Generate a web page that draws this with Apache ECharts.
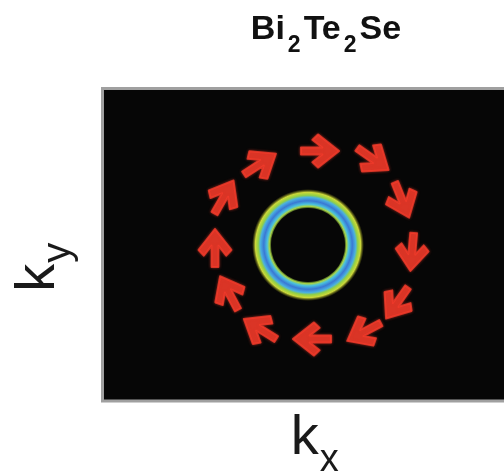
<!DOCTYPE html>
<html>
<head>
<meta charset="utf-8">
<script src="https://cdn.jsdelivr.net/npm/echarts@6/dist/echarts.min.js"></script>
<style>
  html, body { margin: 0; padding: 0; background: #fff; }
  #chart { width: 504px; height: 476px; }
</style>
</head>
<body>
<div id="chart"></div>
<script>
// momentum window (arbitrary units, ring centred at 0,0)
var kxRange = [-2.055, 2.01];
var kyRange = [-1.56, 1.565];

// constant energy contour of the surface state
var ringCenter = [0, 0];
var ringInner = 0.37;
var ringOuter = 0.56;

// spin texture: arrow positions and spin direction (deg, counter-clockwise from +kx)
var spinKx = [0.12, 0.65, 0.94, 1.04, 0.89, 0.56, 0.04, -0.48, -0.79, -0.93, -0.84, -0.48];
var spinKy = [0.94, 0.86, 0.45, -0.07, -0.58, -0.87, -0.94, -0.84, -0.48, -0.03, 0.48, 0.81];
var spinAngle = [0, -35, -68, -95, -125, -152, 180, 148, 118, 90, 60, 33];

var arrowPath = 'path://M100,43 L45,0 L30,14 L56,34 L0,34 L0,52 L56,52 L30,72 L45,86 Z';
var textFont = "'Liberation Sans Narrow', 'Liberation Sans', Arial, sans-serif";

var spinData = spinKx.map(function (x, i) {
  return [x, spinKy[i], spinAngle[i]];
});

var ringStops = [
  { offset: 0.64, color: 'rgba(140,190,60,0)' },
  { offset: 0.69, color: '#a8d448' },
  { offset: 0.73, color: '#48c0e0' },
  { offset: 0.79, color: '#3a78d4' },
  { offset: 0.85, color: '#4ab0e0' },
  { offset: 0.89, color: '#92d044' },
  { offset: 0.94, color: '#ccd83a' },
  { offset: 1.0, color: 'rgba(120,120,20,0)' }
];

var chart = echarts.init(document.getElementById('chart'));
var option = {
  animation: false,
  title: {
    text: '{b|Bi}{s|2}{b|Te}{s|2}{b|Se}',
    left: 326,
    top: 13,
    padding: 0,
    textAlign: 'center',
    textStyle: {
      rich: {
        b: { fontSize: 34, fontWeight: 'bold', color: '#111', fontFamily: 'Liberation Sans', lineHeight: 34 },
        s: { fontSize: 23, fontWeight: 'bold', color: '#111', fontFamily: 'Liberation Sans', lineHeight: 34, padding: [32, 3, 0, 3] }
      }
    }
  },
  grid: {
    left: 102.5,
    right: -5,
    top: 88.5,
    bottom: 75,
    containLabel: false,
    outerBoundsMode: 'none',
    show: true,
    backgroundColor: '#060606',
    borderColor: '#a0a0a0',
    borderWidth: 3
  },
  xAxis: {
    type: 'value',
    min: kxRange[0],
    max: kxRange[1],
    axisLine: { show: false },
    axisTick: { show: false },
    axisLabel: { show: false },
    splitLine: { show: false },
    name: '{k|k}{s|x}',
    nameLocation: 'middle',
    nameGap: 10,
    nameTextStyle: {
      rich: {
        k: { fontSize: 56, color: '#1a1a1a', fontFamily: textFont, lineHeight: 56, padding: [0, 0, 0, 18] },
        s: { fontSize: 38, color: '#1a1a1a', fontFamily: textFont, lineHeight: 56, padding: [44, 0, 0, 1] }
      }
    }
  },
  yAxis: {
    type: 'value',
    min: kyRange[0],
    max: kyRange[1],
    axisLine: { show: false },
    axisTick: { show: false },
    axisLabel: { show: false },
    splitLine: { show: false },
    name: '{k|k}{s|y}',
    nameLocation: 'middle',
    nameGap: 36,
    nameTextStyle: {
      rich: {
        k: { fontSize: 56, color: '#1a1a1a', fontFamily: textFont, lineHeight: 56 },
        s: { fontSize: 40, color: '#1a1a1a', fontFamily: textFont, lineHeight: 56, padding: [40, 45, 0, 1] }
      }
    }
  },
  series: [
    {
      name: 'contour',
      type: 'custom',
      data: [[ringCenter[0], ringCenter[1], ringInner, ringOuter]],
      renderItem: function (params, api) {
        var c = api.coord([api.value(0), api.value(1)]);
        var r0 = api.size([api.value(2), 0])[0];
        var r = api.size([api.value(3), 0])[0];
        return {
          type: 'ring',
          shape: { cx: c[0], cy: c[1], r: r, r0: r0 },
          style: { fill: new echarts.graphic.RadialGradient(0.5, 0.5, 0.5, ringStops) }
        };
      },
      z: 2
    },
    {
      name: 'spin',
      type: 'scatter',
      data: spinData,
      symbol: arrowPath,
      symbolSize: [38, 33],
      symbolRotate: function (value) { return value[2]; },
      itemStyle: {
        color: '#f23b2a',
        borderColor: '#f23b2a',
        borderWidth: 2,
        borderJoin: 'round',
        shadowBlur: 3,
        shadowColor: 'rgba(242,59,42,0.6)'
      },
      z: 3
    }
  ]
};
chart.setOption(option);
</script>
</body>
</html>
